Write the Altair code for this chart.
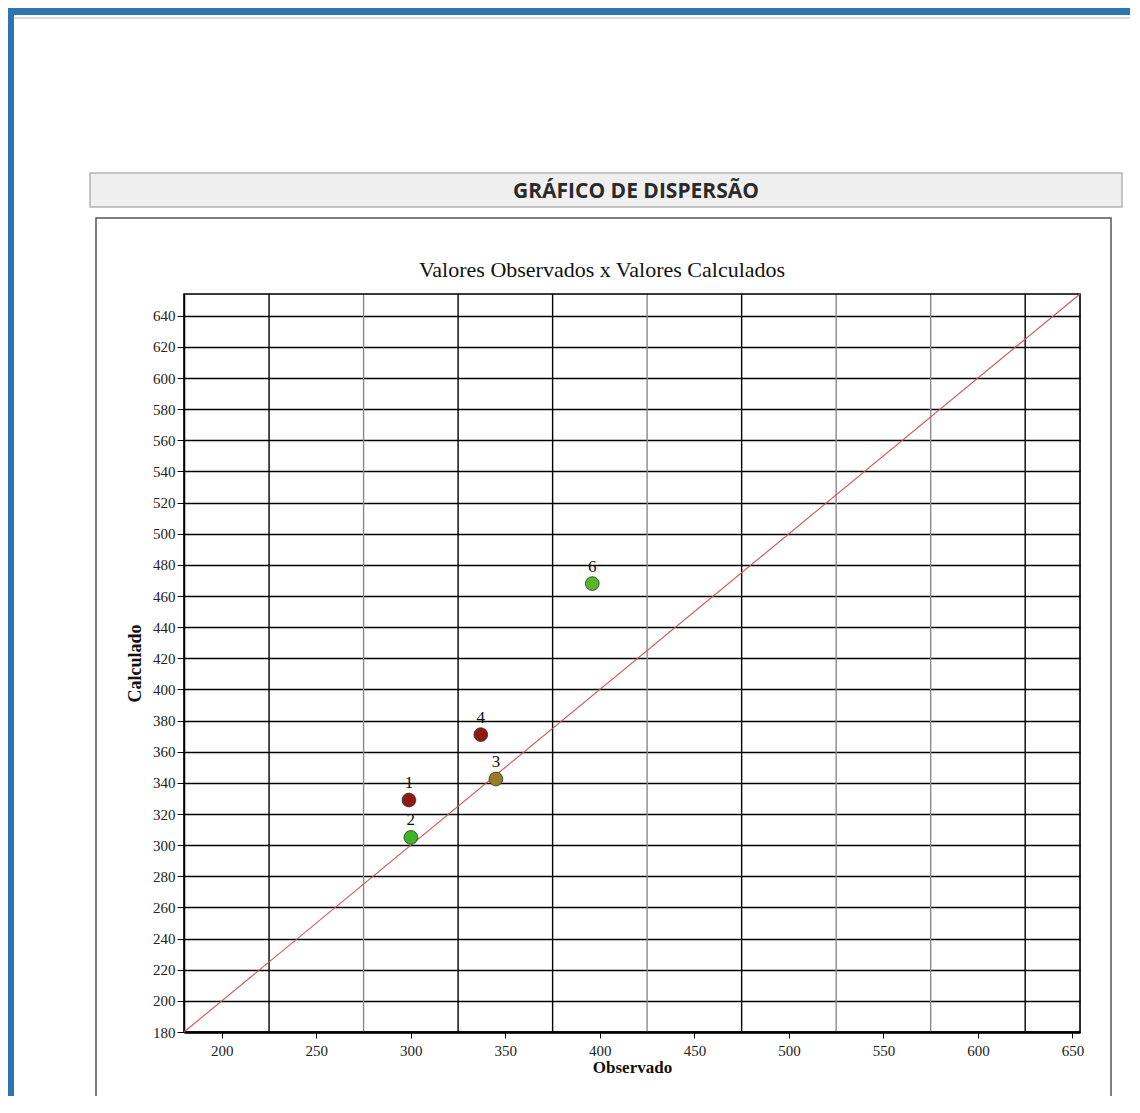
import altair as alt
import pandas as pd

# ---- data ----
point_ids = ["1", "2", "3", "4", "6"]
observado = [299, 300, 345, 337, 396]
calculado = [329, 305, 342.5, 371, 468]
point_colors = ["#8e1a12", "#3db526", "#9a7b25", "#8e1a12", "#58b52a"]

x_ticks = [200, 250, 300, 350, 400, 450, 500, 550, 600, 650]
y_ticks = list(range(180, 641, 20))
x_grid = [225, 275, 325, 375, 425, 475, 525, 575, 625]
x_grid_colors = ["#000000", "#8a8a8a", "#000000", "#000000", "#8a8a8a",
                 "#000000", "#8a8a8a", "#8a8a8a", "#000000"]
identity_line = [180, 654]

DOMAIN = [180, 654]
W, H = 896, 738

pts = pd.DataFrame({"id": point_ids, "obs": observado, "calc": calculado, "col": point_colors})
grid_df = pd.DataFrame({"gx": x_grid, "gc": x_grid_colors})
line_df = pd.DataFrame({"lx": identity_line, "ly": identity_line})

one = alt.Data(values=[{"a": 1}])

xs = alt.Scale(domain=DOMAIN, nice=False, zero=False)
ys = alt.Scale(domain=DOMAIN, nice=False, zero=False)

FONT = "Liberation Serif"

x_axis = alt.Axis(values=x_ticks, grid=False, title="Observado", labelFont=FONT,
                  labelFontSize=15, labelColor="#222", titleFont=FONT, titleFontSize=17,
                  titleFontWeight="bold", titleColor="#111", domainColor="#000",
                  domainWidth=2.5, tickColor="#000", tickSize=6, labelPadding=5,
                  titlePadding=1, labelOverlap=False, labelFlush=False)
y_axis = alt.Axis(values=y_ticks, grid=True, gridColor="#000", gridWidth=1.3,
                  title="Calculado", labelFont=FONT, labelFontSize=15, labelColor="#222",
                  titleFont=FONT, titleFontSize=18, titleFontWeight="bold",
                  titleColor="#111", domainColor="#000", domainWidth=1.5,
                  tickColor="#000", tickSize=7, labelPadding=2, titlePadding=8,
                  labelOverlap=False, labelFlush=False)

# ---- page decorations (outside the plot area) ----
blue_top = alt.Chart(one).mark_rect(color="#2e74b5").encode(
    x=alt.value(-176), x2=alt.value(W + 50), y=alt.value(-286), y2=alt.value(-279))
blue_left = alt.Chart(one).mark_rect(color="#2e74b5").encode(
    x=alt.value(-176), x2=alt.value(-170), y=alt.value(-286), y2=alt.value(H + 70))
thin_line = alt.Chart(one).mark_rect(color="#dcdcdc").encode(
    x=alt.value(-170), x2=alt.value(W + 50), y=alt.value(-277), y2=alt.value(-275))
header = alt.Chart(one).mark_rect(fill="#efefef", stroke="#b4b4b4", strokeWidth=1.5).encode(
    x=alt.value(-94), x2=alt.value(938), y=alt.value(-121), y2=alt.value(-87))
header_text = alt.Chart(one).mark_text(
    text="GRÁFICO DE DISPERSÃO", font="Open Sans", fontSize=21, fontWeight="bold",
    color="#2a2a2a", align="center", baseline="middle").encode(
    x=alt.value(452), y=alt.value(-102))
box = alt.Chart(one).mark_rect(filled=False, stroke="#555555", strokeWidth=1.5).encode(
    x=alt.value(-88), x2=alt.value(927), y=alt.value(-76), y2=alt.value(H + 120))
title_text = alt.Chart(one).mark_text(
    text="Valores Observados x Valores Calculados", font=FONT, fontSize=22,
    color="#111", align="center", baseline="middle").encode(
    x=alt.value(418), y=alt.value(-24))
frame = alt.Chart(one).mark_rect(filled=False, stroke="#000", strokeWidth=1.6).encode(
    x=alt.value(0), x2=alt.value(W), y=alt.value(0), y2=alt.value(H))

# ---- plot ----
base_axes = alt.Chart(one).mark_point(opacity=0).encode(
    x=alt.X("a:Q", scale=xs, axis=x_axis),
    y=alt.Y("a:Q", scale=ys, axis=y_axis))

vgrid = alt.Chart(grid_df).mark_rule(strokeWidth=1.4).encode(
    x=alt.X("gx:Q", scale=xs, axis=x_axis),
    color=alt.Color("gc:N", scale=None))

diag = alt.Chart(line_df).mark_line(color="#c8595b", strokeWidth=1.1).encode(
    x=alt.X("lx:Q", scale=xs, axis=x_axis), y=alt.Y("ly:Q", scale=ys, axis=y_axis))

points = alt.Chart(pts).mark_point(filled=True, size=190, opacity=1, shape="circle",
                                   stroke="#333", strokeWidth=0.8).encode(
    x=alt.X("obs:Q", scale=xs, axis=x_axis), y=alt.Y("calc:Q", scale=ys, axis=y_axis),
    fill=alt.Color("col:N", scale=None))

labels = alt.Chart(pts).mark_text(font=FONT, fontSize=17, color="#111", dy=-17,
                                  baseline="middle").encode(
    x=alt.X("obs:Q", scale=xs, axis=x_axis), y=alt.Y("calc:Q", scale=ys, axis=y_axis),
    text="id:N")

chart = alt.layer(
    blue_top, blue_left, thin_line, header, header_text, box, title_text,
    base_axes, vgrid, frame, diag, points, labels
).properties(
    width=W, height=H, autosize="none",
    padding={"left": 176, "top": 286, "right": 50, "bottom": 64},
).configure_view(stroke="#000", strokeWidth=1.5).configure(background="#ffffff")

chart.save("out.html", embed_options={"renderer": "svg", "actions": False})
